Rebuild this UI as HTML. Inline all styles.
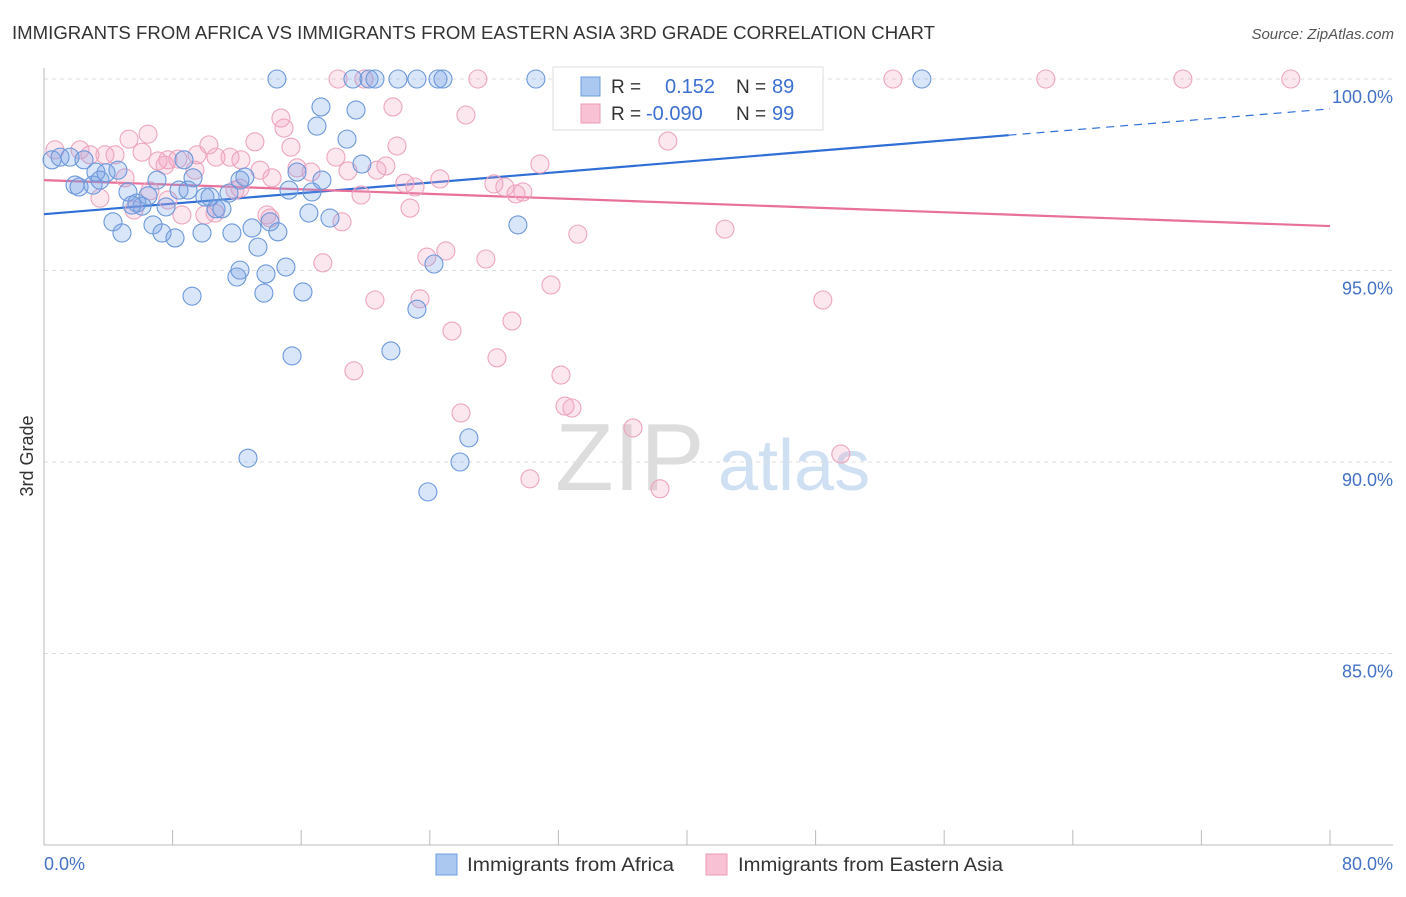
<!DOCTYPE html>
<html><head><meta charset="utf-8"><style>
body{margin:0;background:#fff;font-family:"Liberation Sans",sans-serif;}
svg text{font-family:"Liberation Sans",sans-serif;}
</style></head><body>
<svg id="chart" width="1406" height="892" xmlns="http://www.w3.org/2000/svg">
<text x="12" y="39" font-size="18" fill="#333" textLength="923" lengthAdjust="spacingAndGlyphs">IMMIGRANTS FROM AFRICA VS IMMIGRANTS FROM EASTERN ASIA 3RD GRADE CORRELATION CHART</text>
<text x="1394" y="39" font-size="15" fill="#555" font-style="italic" text-anchor="end">Source: ZipAtlas.com</text>
<text x="33" y="456" font-size="18" fill="#333" transform="rotate(-90 33 456)" text-anchor="middle">3rd Grade</text>
<g><text x="555" y="490" font-size="96" fill="#ddd" font-family="Liberation Serif">ZIP</text><text x="718" y="490" font-size="72" fill="#cfe0f3">atlas</text></g>
<g id="grid"></g><g id="axes"></g><g id="lines"></g><g id="pts"></g>
<g>
<rect x="553" y="67" width="270" height="63" fill="#fff" stroke="#ddd"/>
<rect x="581" y="77" width="19" height="19" fill="#aac8f0" stroke="#6d9ee0"/>
<rect x="581" y="104" width="19" height="19" fill="#f8c2d4" stroke="#eb9ab6"/>
<text x="611" y="93" font-size="19" fill="#333">R =</text><text x="665" y="93" font-size="20" fill="#3b6fd0">0.152</text>
<text x="736" y="93" font-size="19" fill="#333">N =</text><text x="772" y="93" font-size="20" fill="#3b6fd0">89</text>
<text x="611" y="120" font-size="19" fill="#333">R =</text><text x="646" y="120" font-size="20" fill="#3b6fd0">-0.090</text>
<text x="736" y="120" font-size="19" fill="#333">N =</text><text x="772" y="120" font-size="20" fill="#3b6fd0">99</text>
</g>
<g>
<rect x="436" y="854" width="21" height="21" fill="#aac8f0" stroke="#6d9ee0"/>
<text x="467" y="871" font-size="19" fill="#333" textLength="207" lengthAdjust="spacingAndGlyphs">Immigrants from Africa</text>
<rect x="706" y="854" width="21" height="21" fill="#f8c2d4" stroke="#eb9ab6"/>
<text x="738" y="871" font-size="19" fill="#333" textLength="265" lengthAdjust="spacingAndGlyphs">Immigrants from Eastern Asia</text>
</g>
</svg>
<script>
const blueX=[14.49,19.22,20.22,20.59,22.02,23.20,24.51,24.82,30.60,54.61,17.23,19.41,16.98,18.85,19.78,0.50,1.00,1.62,2.49,1.93,2.18,3.05,3.23,3.48,4.60,3.86,5.22,6.47,7.03,5.78,6.10,5.47,7.59,8.40,8.71,9.27,8.96,10.01,10.33,10.70,11.07,11.51,12.50,12.19,15.24,15.74,16.67,17.29,16.48,17.79,4.29,4.85,6.78,7.34,8.15,9.83,11.69,12.94,14.55,14.06,13.31,12.19,12.00,13.81,15.05,9.21,13.68,16.11,24.26,23.20,15.43,21.58,29.48,12.69,26.43,25.88,23.88];
const blueY=[100,100,100,100,100,100,100,100,100,100,99.27,99.19,98.77,98.43,97.78,97.89,97.96,97.96,97.89,97.23,97.18,97.23,97.57,97.36,97.62,97.55,97.05,96.95,97.36,96.76,96.68,96.71,96.66,97.10,97.89,97.42,97.10,96.92,96.92,96.61,96.61,97.02,97.44,97.36,97.10,97.57,97.05,97.36,96.50,96.37,96.27,95.98,96.19,95.98,95.85,95.98,95.98,96.11,96.01,96.27,95.61,95.01,94.83,94.91,95.09,94.33,94.41,94.44,95.17,93.99,92.77,92.90,96.19,90.10,90.63,90.00,89.22];
const pinkX=[18.29,19.90,26.99,32.28,32.78,33.21,37.69,43.29,52.81,62.32,70.85,77.56,21.71,26.25,14.74,14.93,6.47,5.29,10.26,13.12,15.36,21.96,38.81,0.68,2.24,2.86,3.79,4.42,6.10,7.09,7.71,8.33,9.52,10.70,11.57,12.25,13.44,14.18,15.74,16.61,18.16,18.91,19.72,20.71,21.27,22.45,23.08,24.63,27.99,28.67,29.36,29.79,30.85,5.04,6.59,7.71,8.58,10.01,10.64,12.19,13.87,18.54,22.77,33.21,42.36,17.35,20.59,23.39,23.82,25.00,27.49,31.54,48.45,25.38,29.11,28.18,19.28,32.16,32.41,32.84,25.94,36.64,49.57,30.23,38.32,3.48,5.60,7.53,9.39,14.06,11.88];
const pinkY=[100,100,100,100,100,100,100,100,100,100,100,100,99.27,99.06,98.98,98.72,98.56,98.43,98.28,98.36,98.22,98.25,98.38,98.15,98.15,98.02,98.02,98.02,98.09,97.86,97.89,97.91,98.02,97.96,97.96,97.89,97.62,97.42,97.68,97.57,97.96,97.60,96.97,97.62,97.73,97.28,97.18,97.39,97.26,97.18,97.00,97.05,97.78,97.42,97.08,96.84,96.45,96.45,96.50,97.15,96.45,96.27,96.63,95.95,96.08,95.20,94.23,94.26,95.35,95.51,95.30,94.62,94.23,93.42,93.68,92.72,92.38,92.27,91.46,91.41,91.28,90.89,90.21,89.56,89.30,96.89,96.58,97.75,97.62,96.37,97.10];
const yTicks=[100,95,90,85];
const yTickLabels=["100.0%","95.0%","90.0%","85.0%"];
const xTicks=[0,8,16,24,32,40,48,56,64,72,80];
const blueTrend=[96.47,99.22];
const pinkTrend=[97.36,96.16];
const X=v=>44+v/80*1286, Y=v=>79+(100-v)*38.3;
const NS="http://www.w3.org/2000/svg";
function mk(t,a,p){const e=document.createElementNS(NS,t);for(const k in a)e.setAttribute(k,a[k]);document.getElementById(p).appendChild(e);return e;}
yTicks.forEach((t,i)=>{
 const g=mk('line',{x1:44,x2:1393,y1:Y(t),y2:Y(t),stroke:'#ddd','stroke-dasharray':'4,4'},'grid');
 
 
 const l=mk('text',{x:1393,y:Y(t)+24,'font-size':18,fill:'#4472c4','text-anchor':'end'},'axes');
 l.textContent=yTickLabels[i];
 
 
});
const ax=mk('line',{x1:44,x2:44,y1:68,y2:845,stroke:'#bbb'},'axes');


const bx=mk('line',{x1:44,x2:1393,y1:845,y2:845,stroke:'#bbb'},'axes');


xTicks.forEach(t=>{const e=mk('line',{x1:X(t),x2:X(t),y1:830,y2:845,stroke:'#bbb'},'axes');
 
 });
const x0=mk('text',{x:44,y:870,'font-size':18,fill:'#4472c4'},'axes');x0.textContent='0.0%';


const x1=mk('text',{x:1393,y:870,'font-size':18,fill:'#4472c4','text-anchor':'end'},'axes');x1.textContent='80.0%';


function pts(xs,ys,fill,stroke,name){xs.forEach((x,i)=>{const c=mk('circle',{cx:X(x),cy:Y(ys[i]),r:9,fill:fill,stroke:stroke,'stroke-width':1.1},'pts');
 
 });}
pts(pinkX,pinkY,'rgba(244,160,190,0.25)','#eda5bf','point-eastern-asia');
pts(blueX,blueY,'rgba(120,160,230,0.28)','#6c98da','point-africa');
const bs=blueTrend[0]+(blueTrend[1]-blueTrend[0])*60/80;
const t1=mk('line',{x1:X(0),y1:Y(blueTrend[0]),x2:X(60),y2:Y(bs),stroke:'#2f6fd6','stroke-width':2.2},'lines');


const t2=mk('line',{x1:X(60),y1:Y(bs),x2:X(80),y2:Y(blueTrend[1]),stroke:'#2f6fd6','stroke-width':1.2,'stroke-dasharray':'8,6'},'lines');


const t3=mk('line',{x1:X(0),y1:Y(pinkTrend[0]),x2:X(80),y2:Y(pinkTrend[1]),stroke:'#e8709a','stroke-width':2.2},'lines');


</script>
</body></html>
